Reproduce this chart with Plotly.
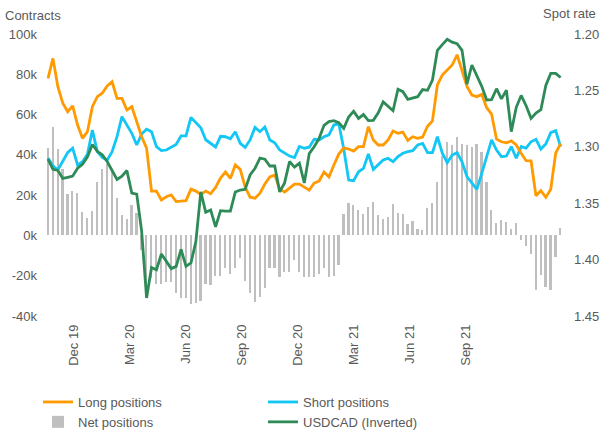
import plotly.graph_objects as go

# Weekly CFTC positioning (thousands of contracts) and USDCAD spot
long_pos = [78, 87.9, 73.8, 65.6, 61.4, 64.3, 54.8, 48.2, 51.5, 63.9,
            68.9, 70.6, 74.2, 76.3, 68, 68, 62.3, 63.9, 56.5, 49,
            43.3, 22, 22, 17.6, 19.2, 20.1, 16.8, 17.2, 17.3, 23,
            22, 20.3, 22, 20.7, 23.8, 28.5, 31.5, 28.3, 35, 32.8,
            24, 19, 18.5, 21, 25.5, 29, 30, 23, 21.5, 23.5,
            25.5, 25.5, 24, 22.5, 26, 27, 31.5, 29, 35, 40.4,
            43.5, 42.9, 41.9, 44.1, 44.1, 54, 47.4, 44.9, 44.9, 47.4,
            51.8, 50.7, 51.3, 47.2, 49, 48.2, 48.8, 54.2, 56.9, 74.7,
            79.6, 82, 84.6, 89.7, 82, 74, 69.7, 68.9, 70, 63.4,
            60.2, 47.8, 46.5, 46, 46.9, 44.9, 40.8, 37.1, 37, 19.7,
            22.2, 18.9, 22.9, 40.8, 45.7]

short_pos = [38.5, 34.5, 32.5, 36.6, 41.2, 43.3, 35, 36.6, 40.3, 52.3,
             41.6, 38.7, 37.4, 41.6, 49, 59, 54.8, 50.7, 44.9, 50.3,
             52.7, 51.5, 44.1, 42.1, 42.4, 43.7, 45.2, 49.4, 49.4, 58.6,
             56.3, 53.5, 47.5, 45.5, 43.9, 49.2, 49, 48, 51.5, 45.7,
             43.7, 47.4, 53.6, 51.5, 53.8, 47.4, 46, 42.4, 40.8, 39.4,
             38.7, 44.2, 43.3, 43.8, 47.7, 47.4, 49, 49.9, 54.8, 55.5,
             43, 27.5, 27.2, 31.6, 33.3, 40.4, 32.8, 35, 37.4, 38.3,
             36.6, 39.1, 40.8, 41.6, 42.1, 44.9, 45.7, 41.1, 41.1, 49,
             40.8, 36.1, 39.9, 41.1, 36.6, 29.2, 25.9, 22.9, 30.8, 39.1,
             47.4, 42.4, 39.1, 39.4, 44.1, 38.3, 44.1, 43.3, 46.5, 47.7,
             42.9, 45.4, 51, 52, 44.1]

net_pos = [43.6, 53.9, 42.8, 33, 20.7, 22, 20.9, 11.4, 8.6, 12,
           26.6, 33, 35.5, 33, 18.7, 10, 8, 15, 11, -7,
           -29, -21, -24, -24, -23, -23, -28.8, -31.3, -31, -34,
           -33.5, -32.5, -24, -24.6, -20, -20, -16.4, -19, -16.4, -11.4,
           -22.5, -28.8, -33, -30.4, -26.3, -16.4, -16.4, -20.5, -18, -18,
           -12.2, -18, -20.5, -20.5, -20.5, -18.9, -16.4, -20.5, -20.2, -14.7,
           10.4, 15.9, 15, 12.6, 10.6, 13.9, 16.5, 10, 8.4, 9.3,
           15.5, 11.2, 10.6, 5.8, 7, 3, 2.6, 13.4, 15.9, 26.5,
           39.4, 46.2, 44.8, 49, 45.3, 44.8, 44, 45.6, 41.5, 26.6,
           12.6, 6, 7.6, 6.8, 3, 6.3, -2.3, -5.3, -9, -27,
           -19.7, -25.8, -27, -10.6, 3.5]

usdcad = [1.311, 1.320, 1.321, 1.328, 1.327, 1.326, 1.319, 1.3155, 1.309, 1.298,
          1.304, 1.307, 1.313, 1.321, 1.329, 1.326, 1.321, 1.341, 1.342, 1.375,
          1.434, 1.407, 1.409, 1.395, 1.402, 1.408, 1.406, 1.391, 1.406, 1.403,
          1.384, 1.340, 1.358, 1.356, 1.371, 1.3566, 1.357, 1.357, 1.340, 1.3383,
          1.3377, 1.325, 1.319, 1.310, 1.311, 1.317, 1.317, 1.340, 1.332, 1.313,
          1.318, 1.3146, 1.332, 1.306, 1.300, 1.2925, 1.281, 1.2777, 1.2768, 1.2786,
          1.2836, 1.2736, 1.2685, 1.2748, 1.2714, 1.2768, 1.2765, 1.2699, 1.2602, 1.2644,
          1.268, 1.249, 1.2511, 1.2579, 1.257, 1.2556, 1.2493, 1.2499, 1.2408, 1.2145,
          1.2094, 1.2047, 1.2072, 1.2086, 1.2145, 1.2445, 1.2275, 1.2363, 1.2464, 1.2585,
          1.2582, 1.2485, 1.2575, 1.2499, 1.2866, 1.265, 1.2545, 1.2636, 1.2748, 1.27,
          1.2671, 1.2456, 1.2349, 1.2349, 1.2386]

tick_labels = ["Dec 19", "Mar 20", "Jun 20", "Sep 20", "Dec 20", "Mar 21", "Jun 21", "Sep 21"]
left_ticks = [-40, -20, 0, 20, 40, 60, 80, 100]
right_ticks = [1.20, 1.25, 1.30, 1.35, 1.40, 1.45]

weeks = list(range(len(long_pos)))
tick_pos = [5.3 + 11.36 * k for k in range(len(tick_labels))]

FONT = "Arial, Liberation Sans, sans-serif"
TXT = "#595959"

fig = go.Figure()
fig.add_trace(go.Bar(x=weeks, y=net_pos, name="Net positions", marker_color="#BFBFBF",
                     marker_line_width=0, width=0.34, legendrank=3))
fig.add_trace(go.Scatter(x=weeks, y=short_pos, name="Short positions", mode="lines",
                         line=dict(color="#12C6F5", width=2.8), legendrank=2))
fig.add_trace(go.Scatter(x=weeks, y=long_pos, name="Long positions", mode="lines",
                         line=dict(color="#FF9A00", width=2.8), legendrank=1))
fig.add_trace(go.Scatter(x=weeks, y=usdcad, name="USDCAD (Inverted)", mode="lines",
                         line=dict(color="#2E8B57", width=2.8), yaxis="y2", legendrank=4))

fig.update_layout(
    template="none",
    width=602, height=432,
    margin=dict(l=42, r=34, t=34, b=116, autoexpand=False),
    paper_bgcolor="white", plot_bgcolor="white",
    font=dict(family=FONT, size=13, color=TXT),
    bargap=0,
    xaxis=dict(range=[-1.22, 105.5], tickmode="array", tickvals=tick_pos, ticktext=tick_labels,
               tickangle=-90, showgrid=False, zeroline=False, showline=False, ticks="",
               ticklabelstandoff=5, automargin=False, tickfont=dict(size=13, color=TXT)),
    yaxis=dict(range=[-40, 100], tickmode="array", tickvals=left_ticks,
               ticktext=[f"{v}k" for v in left_ticks], showgrid=False, zeroline=False,
               showline=False, ticks="", ticklabelstandoff=4, automargin=False,
               tickfont=dict(size=13, color=TXT)),
    yaxis2=dict(range=[1.45, 1.20], overlaying="y", side="right", tickmode="array",
                tickvals=right_ticks, ticktext=[f"{v:.2f}" for v in right_ticks],
                showgrid=False, zeroline=False, showline=False, ticks="", ticklabelstandoff=5,
                automargin=False, tickfont=dict(size=13, color=TXT)),
    legend=dict(orientation="h", xref="container", yref="container", x=38/602, y=1-387/432,
                xanchor="left", yanchor="top", entrywidth=180, itemwidth=30,
                font=dict(size=13, color=TXT), traceorder="normal", bgcolor="rgba(0,0,0,0)"),
    showlegend=True,
    annotations=[
        dict(text="Contracts", xref="paper", yref="paper", x=(3-42)/526, y=1+(34-15)/282,
             xanchor="left", yanchor="middle", showarrow=False, font=dict(size=13, color=TXT)),
        dict(text="Spot rate", xref="paper", yref="paper", x=(598-42)/526, y=1+(34-14)/282,
             xanchor="right", yanchor="middle", showarrow=False, font=dict(size=13, color=TXT)),
    ],
)

fig.write_html("out.html", config={"displayModeBar": False},
               post_script="document.body.style.margin='0';document.body.style.overflow='hidden';")
